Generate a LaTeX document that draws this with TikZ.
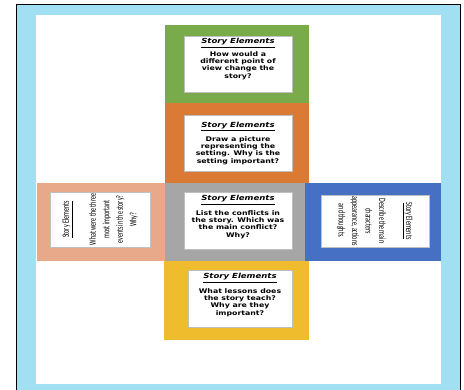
\documentclass[tikz,border=0pt]{standalone}
\usepackage{fontspec}
\setmainfont{DejaVu Sans}
\newfontfamily\cubefont[FakeStretch=1.22]{DejaVu Sans}
\newfontfamily\sidefont[FakeStretch=0.63]{Carlito}
\definecolor{frameblue}{RGB}{160,224,242}
\definecolor{facegreen}{RGB}{122,171,74}
\definecolor{faceorange}{RGB}{218,122,52}
\definecolor{facegray}{RGB}{166,166,166}
\definecolor{facesalmon}{RGB}{232,168,138}
\definecolor{faceblue}{RGB}{70,112,196}
\definecolor{faceyellow}{RGB}{238,188,44}
\newcommand{\cubetitle}{{\fontsize{7}{8}\selectfont\itshape\underline{Story Elements}}}
\newcommand{\sidetitle}{\underline{Story Elements}}

\begin{document}
\begin{tikzpicture}[x=1pt, y=-1pt,
    face/.style={inner sep=0pt, outer sep=0pt},
    card/.style={draw=black!25, line width=0.3pt, fill=white, inner sep=0pt},
    cardtext/.style={anchor=north, inner sep=0pt, align=center,
      font=\cubefont\bfseries\fontsize{6.4}{7.3}\selectfont},
    sidecard/.style={draw=black!25, line width=0.3pt, fill=white, inner sep=0pt,
      align=center, font=\sidefont\fontsize{9.6}{13.5}\selectfont}]
  \useasboundingbox (0,0) rectangle (464,390);

  % frame
  \draw[fill=frameblue, line width=1pt] (16,395) -- (16,4.5) -- (460,4.5) -- (460,395);
  \fill[white] (36,15) rectangle (441,384);

  % faces of the cube
  \node[face, fill=facegreen, minimum width=144, minimum height=78] (green face) at (237,64) {};
  \node[face, fill=faceorange, minimum width=144, minimum height=80] (orange face) at (237,143) {};
  \node[face, fill=facegray, minimum width=140, minimum height=78] (gray face) at (235,222) {};
  \node[face, fill=facesalmon, minimum width=128, minimum height=78] (salmon face) at (101,222) {};
  \node[face, fill=faceblue, minimum width=136, minimum height=78] (blue face) at (373,222) {};
  \node[face, fill=faceyellow, minimum width=145, minimum height=79] (yellow face) at (236.5,300.5) {};

  % cards
  \node[card, minimum width=108, minimum height=56] (green card) at (238,64) {};
  \node[cardtext] (green text) at ([yshift=-2.5]green card.north)
    {\cubetitle\\[3pt] How would a\\ different point of\\ view change the\\ story?};
  \node[card, minimum width=108, minimum height=56] (orange card) at (238,143) {};
  \node[cardtext] (orange text) at ([yshift=-7]orange card.north)
    {\cubetitle\\[4.5pt] Draw a picture\\ representing the\\ setting. Why is the\\ setting important?};
  \node[card, minimum width=108, minimum height=57] (gray card) at (238,220.5) {};
  \node[cardtext] (gray text) at ([yshift=-3.5]gray card.north)
    {\cubetitle\\[5pt] List the conflicts in\\ the story. Which was\\ the main conflict?\\ Why?};
  \node[card, minimum width=104, minimum height=57] (yellow card) at (240,298.5) {};
  \node[cardtext] (yellow text) at ([yshift=-3.5]yellow card.north)
    {\cubetitle\\[5pt] What lessons does\\ the story teach?\\ Why are they\\ important?};

  % side cards, turned
  \node[sidecard, rotate=90, minimum width=55, minimum height=100] (salmon card) at (100,219.5)
    {\sidetitle\\[13.5pt] What were the three\\ most important\\ events in the story?\\ Why?};
  \node[sidecard, rotate=-90, minimum width=52, minimum height=108] (blue card) at (375,221)
    {\sidetitle\\[13.5pt] Describe the main\\ characters\\ appearance, actions\\ and thoughts.};
\end{tikzpicture}
\end{document}
